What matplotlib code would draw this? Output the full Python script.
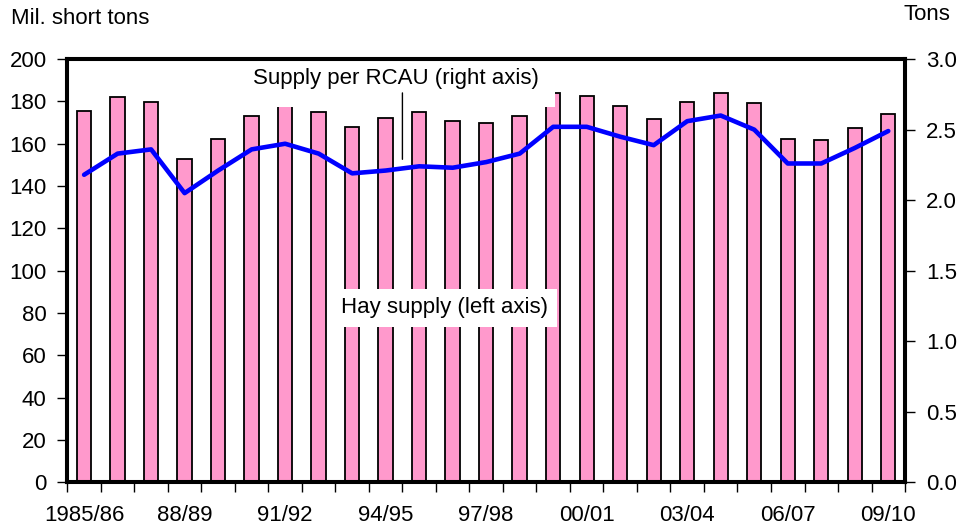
import matplotlib
matplotlib.use("Agg")
import matplotlib.pyplot as plt
from matplotlib.patches import Rectangle

plt.rcParams['font.family'] = ['Liberation Sans', 'DejaVu Sans']

# Data
seasons = ["1985/86", "86/87", "87/88", "88/89", "89/90", "90/91", "91/92", "92/93",
           "93/94", "94/95", "95/96", "96/97", "97/98", "98/99", "99/00", "00/01",
           "01/02", "02/03", "03/04", "04/05", "05/06", "06/07", "07/08", "08/09", "09/10"]
hay_supply = [175.4, 182.0, 179.6, 152.9, 162.2, 173.2, 179.0, 175.2, 167.7, 172.1,
              174.9, 170.7, 170.0, 173.2, 184.2, 182.5, 177.6, 171.9, 179.5, 184.0,
              179.3, 162.2, 162.0, 167.4, 174.1]
supply_per_rcau = [2.18, 2.33, 2.36, 2.05, 2.21, 2.36, 2.40, 2.33, 2.19, 2.21,
                   2.24, 2.23, 2.27, 2.33, 2.52, 2.52, 2.45, 2.39, 2.56, 2.60,
                   2.50, 2.26, 2.26, 2.37, 2.49]
label_every = 3

fs = 16
x = list(range(len(seasons)))

fig = plt.figure(figsize=(9.58, 5.31), dpi=100)
ax = fig.add_axes([0.0703, 0.0917, 0.8744, 0.797])
ax.bar(x, hay_supply, width=0.43, color='#FF99CC', edgecolor='black', linewidth=1.3, zorder=2)
ax.set_xlim(-0.5, len(seasons) - 0.5)
ax.set_ylim(0, 200)
ax.set_yticks(range(0, 201, 20))

# labels under bars, tick marks between categories
ax.set_xticks(x[::label_every])
ax.set_xticklabels(seasons[::label_every])
ax.set_xticks([i - 0.5 for i in range(len(seasons) + 1)], minor=True)
ax.tick_params(axis='x', which='major', length=0, pad=16, labelsize=fs)
ax.tick_params(axis='x', which='minor', length=7, width=1, direction='out')
ax.tick_params(axis='y', length=7, width=1, direction='out', pad=8, labelsize=fs)

ax2 = ax.twinx()
ax2.plot(x, supply_per_rcau, color='#0000FF', linewidth=3.3, solid_capstyle='round', zorder=3)
ax2.set_ylim(0, 3.0)
ax2.set_yticks([0, 0.5, 1.0, 1.5, 2.0, 2.5, 3.0])
ax2.set_yticklabels(["%.1f" % v for v in ax2.get_yticks()])
ax2.tick_params(axis='y', length=7, width=1, direction='out', pad=8, labelsize=fs)

for a in (ax, ax2):
    for s in a.spines.values():
        s.set_linewidth(2.9)

# annotation boxes
ax2.add_patch(Rectangle((0.218, 0.887), 0.364, 0.105, transform=ax2.transAxes,
                        facecolor='white', edgecolor='none', zorder=4))
ax2.text(0.392, 0.955, "Supply per RCAU (right axis)", transform=ax2.transAxes,
         ha='center', va='center', fontsize=fs, zorder=5)
ax2.annotate("", xy=(9.5, 2.27), xytext=(9.5, 2.78),
             arrowprops=dict(arrowstyle='-', color='black', linewidth=1), zorder=5)
ax2.text(0.45, 0.412, "Hay supply (left axis)", transform=ax2.transAxes,
         ha='center', va='center', fontsize=fs, zorder=5,
         bbox=dict(boxstyle='square,pad=0.4', facecolor='white', edgecolor='none'))

fig.text(0.012, 0.945, "Mil. short tons", fontsize=fs, ha='left', va='bottom')
fig.text(0.992, 0.952, "Tons", fontsize=fs, ha='right', va='bottom')

fig.savefig("out.png", dpi=100)
